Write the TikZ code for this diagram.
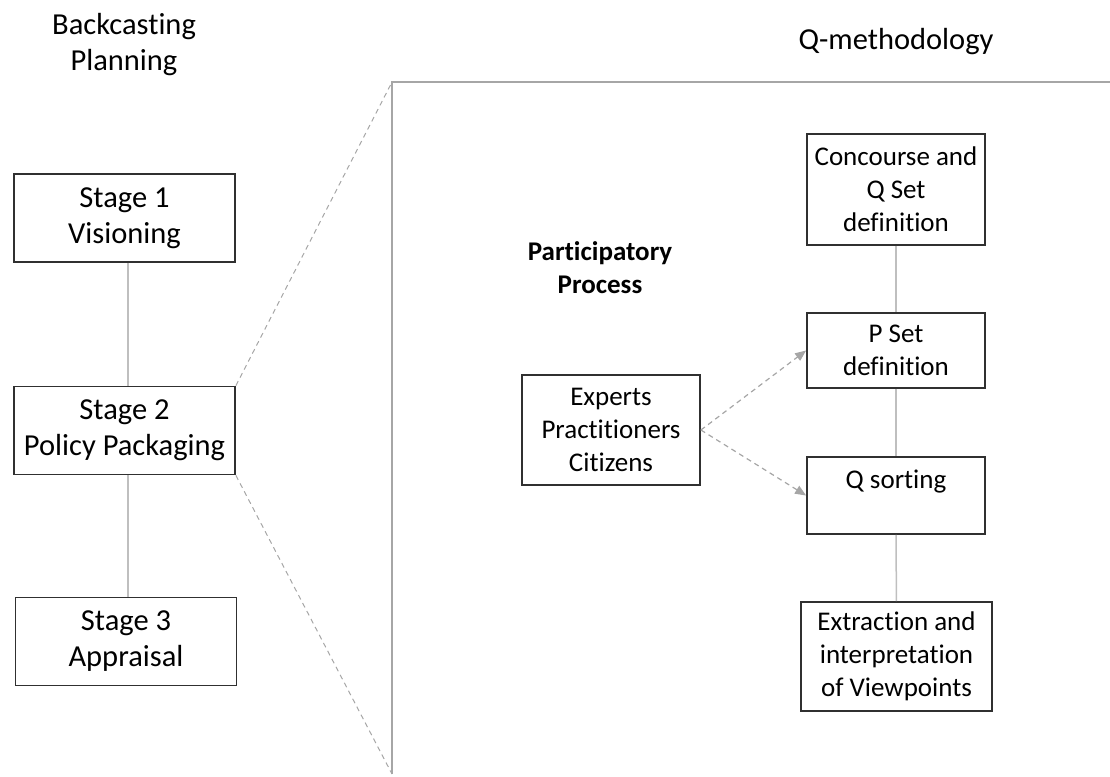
\documentclass[tikz,border=0pt]{standalone}
\usepackage{fontspec}
\setmainfont{Carlito}[Ligatures=NoCommon]
\usetikzlibrary{arrows.meta}
\definecolor{boxline}{HTML}{303030}
\definecolor{conn}{HTML}{BFBFBF}
\definecolor{frame}{HTML}{A6A6A6}
\begin{document}
\begin{tikzpicture}[x=1pt,y=-1pt,
  bigtext/.style={font=\fontsize{30.5}{36}\selectfont, align=center},
  smalltext/.style={font=\fontsize{27}{33}\selectfont, align=center},
  stagebox/.style={draw=boxline, line width=1.8pt, bigtext, minimum width=221pt, minimum height=88pt, inner sep=0pt},
  qbox/.style={draw=boxline, line width=1.8pt, smalltext, minimum width=178pt, inner sep=0pt},
  link/.style={draw=conn, line width=1.5pt},
  framel/.style={draw=frame, line width=1.8pt},
  zoomline/.style={draw=frame, line width=1pt, dash pattern=on 5pt off 4pt},
  flow/.style={draw=frame, line width=1.2pt, dash pattern=on 5pt off 4pt, -{Triangle[length=11pt,width=9pt]}}
]
\useasboundingbox (0,0) rectangle (1110,776);

% titles
\node[bigtext] (bp) at (124,45) {Backcasting\\Planning};
\node[bigtext, anchor=base] (qm) at (896,50) {Q-methodology};
\node[smalltext, font=\fontsize{27}{33}\selectfont\bfseries] (pp) at (600,268) {Participatory\\Process};

% left stages
\node[stagebox] (s1) at (124.5,218) {Stage 1\\Visioning};
\node[stagebox] (s2) at (124.5,430.5) {Stage 2\\Policy Packaging};
\node[stagebox] (s3) at (126,641.5) {Stage 3\\Appraisal};
\draw[link] (s1.south -| 128,0) -- (s2.north -| 128,0);
\draw[link] (s2.south -| 128,0) -- (s3.north -| 128,0);

% frame of the zoomed panel
\coordinate (ftop) at (392,82);
\coordinate (fbot) at (392,774);
\coordinate (fright) at (1110,82);
\draw[framel] (fbot) -- (ftop) -- (fright);
\draw[zoomline] (s2.north east) -- (ftop);
\draw[zoomline] (s2.south east) -- (fbot);

% right side
\node[qbox, minimum height=110pt] (ex) at (611,430) {Experts\\Practitioners\\Citizens};
\node[qbox, minimum height=111pt] (cq) at (896,189.5) {Concourse and\\Q Set\\definition};
\node[qbox, minimum height=75pt] (ps) at (896,350.5) {P Set\\definition};
\node[qbox, minimum height=77pt] (qs) at (896,495.5) {Q sorting\\\mbox{}};
\node[qbox, minimum width=191pt, minimum height=109pt] (ev) at (896.5,656.5) {Extraction and\\interpretation\\of Viewpoints};

\draw[link] (cq) -- (ps);
\draw[link] (ps) -- (qs);
\draw[link] (qs) -- (ev);
\draw[flow] (ex.east) -- (ps.west);
\draw[flow] (ex.east) -- (qs.west);
\end{tikzpicture}
\end{document}
